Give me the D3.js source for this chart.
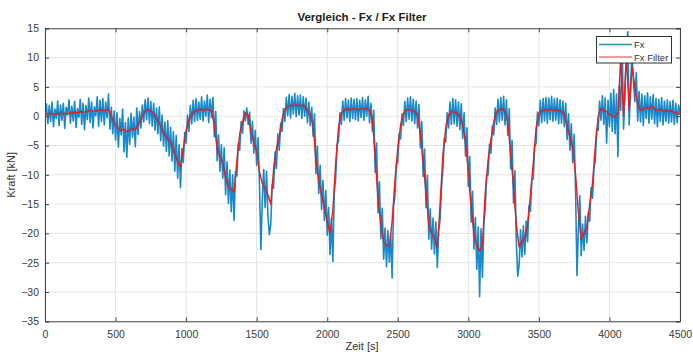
<!DOCTYPE html>
<html><head><meta charset="utf-8">
<script src="https://cdn.jsdelivr.net/npm/d3@7"></script>
<style>body{margin:0;background:#fff}svg{display:block;font-family:"Liberation Sans",Arial,sans-serif}</style>
</head><body><svg id="c" width="693" height="355"></svg>
<script>
const title = "Vergleich - Fx / Fx Filter";
const xLabel = "Zeit [s]";
const yLabel = "Kraft [kN]";
const seriesNames = ["Fx", "Fx Filter"];
const xTicks = [0,500,1000,1500,2000,2500,3000,3500,4000,4500];
const yTicks = [-35,-30,-25,-20,-15,-10,-5,0,5,10,15];
const fxStep = 10;      // s between raw samples
const filterStep = 20;  // s between filtered samples
const fxValues = [
0.5,2.1,-1.3,1.8,-0.9,2.4,-1.8,1.2,-0.4,2.6,
-1.6,1.9,-0.7,2.2,-2.1,1.5,0.2,2.8,-1.2,1.7,
-0.8,2.5,-1.9,1.3,-0.2,2.9,-1.4,2.2,-2.3,1.8,
-0.6,3.1,-1.1,2.4,-2.0,1.6,0.1,3.3,-1.7,2.7,
-0.9,3.0,-1.5,2.4,-0.3,3.8,-2.2,1.5,-3.0,0.9,
-4.1,0.6,-5.3,-0.4,-3.2,1.2,-6.1,-1.1,-7.0,-0.3,
-4.8,0.5,-3.6,-0.2,-5.2,1.4,-3.1,0.8,-2.0,1.9,
-1.0,2.8,-0.6,3.1,-1.2,2.5,-1.7,2.2,-2.4,1.4,
-3.0,1.6,-4.2,0.2,-5.1,-1.0,-6.0,-0.8,-6.8,-1.9,
-7.7,-2.6,-9.4,-3.3,-10.6,-4.9,-12.2,-5.5,-7.9,-2.8,
-4.6,0.2,-2.6,1.8,-1.3,2.7,-0.9,3.0,-0.7,2.4,
-0.5,3.3,-0.8,2.6,0.0,3.6,-1.1,2.9,-0.2,3.2,
-3.5,0.8,-7.6,-3.2,-9.4,-4.9,-10.6,-5.4,-13.4,-7.8,
-14.9,-9.2,-16.3,-10.0,-17.8,-9.5,-10.2,-4.6,-5.8,-0.9,
-2.9,0.9,-0.8,1.4,-1.4,0.7,-4.6,-0.9,-6.3,-2.4,
-8.4,-3.7,-11.8,-22.8,-14.2,-9.1,-15.6,-9.4,-17.2,-20.2,
-18.4,-11.7,-12.3,-6.1,-8.9,-3.0,-5.8,-1.2,-2.6,1.3,
-0.9,3.2,0.1,3.7,-0.3,3.4,0.4,3.9,-0.1,3.5,
0.2,3.6,-0.4,3.3,0.0,3.1,-1.1,2.4,-1.6,1.5,
-3.4,0.4,-9.8,-5.1,-13.2,-8.4,-15.9,-11.0,-17.8,-12.7,
-20.3,-15.6,-23.6,-17.4,-24.8,-13.0,-10.6,-4.9,-4.3,0.6,
-1.4,2.6,-0.7,3.0,-0.3,2.7,-0.9,3.1,-0.4,2.9,
-0.6,3.0,-0.8,2.7,-0.2,3.2,-0.7,2.8,0.0,3.4,
-1.1,2.2,-2.6,1.0,-9.6,-4.6,-16.5,-11.2,-20.9,-15.7,
-24.4,-19.1,-25.7,-19.5,-24.9,-20.1,-27.6,-15.4,-13.6,-8.3,
-7.8,-3.0,-3.9,0.4,-1.6,2.5,-0.9,3.1,-0.5,3.3,
-0.8,2.9,-1.3,2.6,-2.0,2.0,-5.4,-0.9,-10.3,-5.6,
-15.6,-10.1,-21.0,-15.8,-22.7,-17.4,-23.5,-18.0,-25.8,-19.6,
-17.6,-12.2,-9.0,-3.8,-4.4,0.6,-2.0,2.4,-1.4,3.0,
-1.3,2.8,-1.7,2.4,-2.3,2.1,-3.8,0.6,-6.8,-2.0,
-12.0,-6.9,-18.1,-12.8,-22.7,-17.3,-26.1,-18.9,-30.8,-19.2,
-27.5,-18.4,-15.6,-10.2,-10.0,-4.8,-6.3,-1.7,-3.2,1.4,
-1.4,2.9,-1.0,3.2,-0.7,3.4,-1.5,2.8,-3.3,1.3,
-9.0,-4.1,-14.8,-9.3,-21.2,-27.3,-25.4,-19.4,-24.0,-18.7,
-23.6,-17.9,-21.4,-15.3,-16.2,-10.8,-10.7,-5.2,-4.6,0.7,
-1.6,2.7,-1.1,3.0,-0.8,3.2,-1.2,3.1,-0.6,3.4,
-0.9,3.0,-0.7,3.1,-1.3,2.8,-1.2,2.6,-1.8,2.2,
-4.0,0.4,-5.8,-1.3,-7.9,-3.1,-12.8,-27.2,-19.2,-13.6,
-23.8,-18.4,-22.9,-17.1,-21.6,-16.4,-17.9,-12.2,-14.0,-8.9,
-7.6,-2.1,-2.4,2.6,-0.7,3.5,-1.4,3.1,-4.6,2.7,
-1.8,3.9,-2.6,4.6,-3.0,3.8,-6.9,5.2,1.0,12.4,
-2.2,3.6,11.8,14.4,-1.5,5.2,10.6,6.0,2.5,7.4,
-0.8,4.2,-1.0,3.8,-1.6,3.5,-0.4,4.0,-1.2,3.3,
-0.5,3.7,-1.3,3.0,-1.8,2.9,-0.9,3.2,-1.5,2.6,
-0.9,2.8,-1.2,2.5,-1.0,2.7,-1.4,2.2,-1.1,1.9,
0.4];
const filterValues = [
0.3,0.4,0.5,0.4,0.3,0.5,0.4,0.5,0.4,0.6,
0.5,0.7,0.6,0.8,0.7,0.8,1.0,0.9,0.8,1.0,
1.1,0.9,1.2,0.8,-0.6,-1.5,-2.0,-2.4,-2.2,-2.6,
-2.4,-2.1,-2.3,-1.5,-0.6,0.5,1.1,1.0,0.7,0.2,
-0.9,-1.6,-3.0,-3.4,-4.2,-5.0,-6.5,-7.8,-8.6,-5.5,
-2.5,-0.6,0.2,0.8,1.0,1.2,1.0,1.2,1.1,0.9,
-1.5,-5.5,-7.0,-8.0,-10.5,-12.0,-12.5,-13.0,-7.5,-3.0,
-1.0,0.6,0.2,-2.8,-4.5,-6.0,-9.5,-11.5,-12.3,-13.5,
-15.0,-9.0,-5.5,-3.5,-0.5,1.2,1.6,1.9,1.8,2.0,
1.8,1.9,1.7,1.0,0.2,-1.5,-7.5,-11.0,-13.5,-15.5,
-18.0,-20.0,-16.0,-8.0,-2.0,0.6,1.0,1.3,1.1,1.3,
1.2,1.1,1.3,1.2,1.3,1.0,-0.3,-7.0,-14.0,-18.5,
-21.5,-22.0,-22.3,-18.0,-11.0,-5.5,-1.5,0.5,1.1,1.2,
1.0,0.8,0.2,-3.0,-8.0,-13.0,-18.5,-20.0,-20.8,-22.5,
-15.0,-6.5,-2.0,0.2,0.8,0.7,0.5,0.0,-1.5,-4.5,
-9.5,-15.5,-20.0,-22.0,-23.0,-22.0,-13.0,-7.5,-4.0,-1.0,
0.8,1.1,1.3,0.8,-1.0,-6.5,-12.0,-18.5,-22.3,-21.5,
-20.8,-18.5,-13.5,-8.0,-2.0,0.5,0.9,1.1,1.0,1.2,
1.0,1.1,0.9,0.8,0.3,-1.8,-3.5,-5.5,-10.0,-16.5,
-21.0,-20.0,-19.0,-15.0,-11.5,-5.0,0.0,1.3,1.0,0.8,
0.3,0.0,-0.2,0.5,10.0,0.0,10.5,1.0,8.5,5.0,
2.0,1.0,1.3,1.5,1.2,1.8,1.2,1.0,1.2,0.9,
1.0,0.8,0.9,0.6,0.5,0.3];

const W = 693, H = 355;
const m = {left:45, right:680, top:28.3, bottom:321.3};
const svg = d3.select("#c");
svg.append("rect").attr("width",W).attr("height",H).attr("fill","#fff");

const x = d3.scaleLinear().domain([0,4500]).range([m.left,m.right]);
const y = d3.scaleLinear().domain([-35,15]).range([m.bottom,m.top]);

// grid
const g = svg.append("g");
g.selectAll(".gx").data(xTicks).join("line")
 .attr("x1",d=>x(d)).attr("x2",d=>x(d)).attr("y1",m.top).attr("y2",m.bottom)
 .attr("stroke","#e4e4e4").attr("stroke-width",1);
g.selectAll(".gy").data(yTicks).join("line")
 .attr("x1",m.left).attr("x2",m.right).attr("y1",d=>y(d)).attr("y2",d=>y(d))
 .attr("stroke","#e4e4e4").attr("stroke-width",1);

// data
const fxData = fxValues.map((v,i)=>[i*fxStep,v]);
const filtData = filterValues.map((v,i)=>[i*filterStep,v]);
const line = d3.line().x(d=>x(d[0])).y(d=>y(d[1]));
const clip = svg.append("clipPath").attr("id","cp").append("rect")
 .attr("x",m.left).attr("y",m.top).attr("width",m.right-m.left).attr("height",m.bottom-m.top);
const plot = svg.append("g").attr("clip-path","url(#cp)");
plot.append("path").datum(fxData).attr("d",line).attr("fill","none")
 .attr("stroke","#1689cc").attr("stroke-width",1.6).attr("stroke-linejoin","round");
plot.append("path").datum(filtData).attr("d",line).attr("fill","none")
 .attr("stroke","#f01818").attr("stroke-width",1.4).attr("stroke-linejoin","round");

// axes (MATLAB style, inward ticks, box)
const axCol = "#444";
const tl = 4;
const ax = svg.append("g");
ax.append("g").attr("transform",`translate(0,${m.bottom})`)
 .call(d3.axisBottom(x).tickValues(xTicks).tickSize(-tl).tickPadding(9).tickFormat(d3.format("d")));
ax.append("g").attr("transform",`translate(0,${m.top})`)
 .call(d3.axisTop(x).tickValues(xTicks).tickSize(-tl).tickFormat(""));
ax.append("g").attr("transform",`translate(${m.left},0)`)
 .call(d3.axisLeft(y).tickValues(yTicks).tickSize(-tl).tickPadding(6).tickFormat(d3.format("d")));
ax.append("g").attr("transform",`translate(${m.right},0)`)
 .call(d3.axisRight(y).tickValues(yTicks).tickSize(-tl).tickFormat(""));
ax.selectAll("path.domain").attr("stroke",axCol).attr("stroke-width",1);
ax.selectAll(".tick line").attr("stroke",axCol);
ax.selectAll(".tick text").attr("fill","#3a3a3a").style("font-size","10.5px")
 .style("font-family","'Liberation Sans',Arial,sans-serif");

// title & labels
svg.append("text").attr("x",362).attr("y",21).attr("text-anchor","middle")
 .style("font-size","11.5px").style("font-weight","bold").attr("fill","#222").text(title);
svg.append("text").attr("x",362).attr("y",350).attr("text-anchor","middle")
 .style("font-size","11px").attr("fill","#333").text(xLabel);
svg.append("text").attr("transform",`translate(15,${(m.top+m.bottom)/2}) rotate(-90)`)
 .attr("text-anchor","middle").style("font-size","11px").attr("fill","#333").text(yLabel);

// legend
const lg = svg.append("g");
lg.append("rect").attr("x",596.5).attr("y",36.5).attr("width",75).attr("height",26.5)
 .attr("fill","#fff").attr("stroke","#333").attr("stroke-width",1);
const legCols = ["#1a9aa0","#f07a80"];
seriesNames.forEach((n,i)=>{
  const yy = 44.5 + i*12.5;
  lg.append("line").attr("x1",599).attr("x2",632).attr("y1",yy).attr("y2",yy)
    .attr("stroke",legCols[i]).attr("stroke-width",1.5);
  lg.append("text").attr("x",634).attr("y",yy+3.5).style("font-size","9.5px")
    .attr("fill","#333").text(n);
});
</script></body></html>
